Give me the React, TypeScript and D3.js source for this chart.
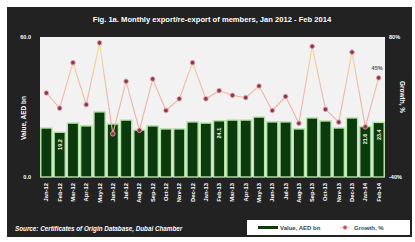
import * as d3 from "d3";

const months = [
  "Jan-12", "Feb-12", "Mar-12", "Apr-12", "May-12", "Jun-12", "Jul-12", "Aug-12",
  "Sep-12", "Oct-12", "Nov-12", "Dec-12", "Jan-13", "Feb-13", "Mar-13", "Apr-13",
  "May-13", "Jun-13", "Jul-13", "Aug-13", "Sep-13", "Oct-13", "Nov-13", "Dec-13",
  "Jan-14", "Feb-14",
];
// value, AED bn
const values = [
  21.0, 19.2, 23.1, 21.9, 27.9, 22.7, 24.4, 20.1, 21.9, 20.6, 20.6, 23.6, 23.1,
  24.1, 24.4, 24.4, 25.7, 23.6, 23.6, 20.6, 25.3, 24.0, 21.0, 25.3, 21.6, 23.4,
];
// growth, %
const growth = [
  32, 19, 58, 22, 75, -3, 42, 0, 44, 17, 27, 58, 27, 34, 30, 28, 38, 17, 29, 6,
  72, 18, 7, 67, 3, 45,
];
const valueLabels = ["Feb-12", "Feb-13", "Jan-14", "Feb-14"];
const growthLabels = ["Feb-14"];

export default function App() {
  const left = 40;
  const right = 385;
  const top = 37;
  const bottom = 177;

  const x = d3.scaleBand().domain(months).range([left, right]).paddingInner(0.16).paddingOuter(0.06);
  const y = d3.scaleLinear().domain([0, 60]).range([bottom, top]);
  const y2 = d3.scaleLinear().domain([-40, 80]).range([bottom, top]);

  const line = d3
    .line<number>()
    .x((_, i) => (x(months[i]) as number) + x.bandwidth() / 2)
    .y((d) => y2(d));

  const white = "#ffffff";
  const font = "Liberation Sans, Arial, sans-serif";

  return (
    <svg
      width={415}
      height={242}
      style={{ position: "absolute", left: 0, top: 0, background: "#fff" }}
      fontFamily={font}
    >
      <defs>
        <linearGradient id="lg" gradientUnits="userSpaceOnUse" x1="0" y1={top} x2="0" y2={bottom}>
          <stop offset="0" stopColor="#f3e48a" />
          <stop offset="0.35" stopColor="#f2b9a0" />
          <stop offset="1" stopColor="#ee9aa6" />
        </linearGradient>
      </defs>
      <rect x={7} y={7} width={405} height={230} fill="#222222" />
      <text x={212} y={22} fill={white} fontSize={7.6} fontWeight="bold" textAnchor="middle">
        Fig. 1a. Monthly export/re-export of members, Jan 2012 - Feb 2014
      </text>

      <rect x={left} y={top} width={right - left} height={bottom - top} fill="#f2f2f2" />

      {/* left axis */}
      {[0, 60].map((t) => (
        <text key={t} x={31} y={y(t) + 2} fill={white} fontSize={5.5} fontWeight="bold" textAnchor="end">
          {t.toFixed(1)}
        </text>
      ))}
      {[-40, 80].map((t) => (
        <text key={t} x={389} y={y2(t) + 2} fill={white} fontSize={5.5} fontWeight="bold">
          {t}%
        </text>
      ))}
      <text
        transform="translate(26,118) rotate(-90)"
        fill={white}
        fontSize={6.5}
        fontWeight="bold"
        textAnchor="middle"
      >
        Value, AED bn
      </text>
      <text
        transform="translate(400,97) rotate(90)"
        fill={white}
        fontSize={6.5}
        fontWeight="bold"
        textAnchor="middle"
      >
        Growth, %
      </text>

      {/* bars */}
      {values.map((v, i) => (
        <rect
          key={i}
          x={x(months[i])}
          y={y(v)}
          width={x.bandwidth()}
          height={bottom - y(v)}
          fill="#0b3a0c"
          stroke="#b4e3a6"
          strokeWidth={1.4}
        />
      ))}
      {values.map((v, i) =>
        valueLabels.includes(months[i]) ? (
          <text
            key={i}
            transform={`translate(${(x(months[i]) as number) + x.bandwidth() / 2 + 2},${y(v) + 7}) rotate(-90)`}
            fill="#f4f4d8"
            fontSize={5.5}
            fontWeight="bold"
            textAnchor="end"
          >
            {v.toFixed(1)}
          </text>
        ) : null
      )}

      {/* growth line */}
      <path d={line(growth) ?? ""} fill="none" stroke="url(#lg)" strokeWidth={1.1} />
      {growth.map((g, i) => (
        <circle
          key={i}
          cx={(x(months[i]) as number) + x.bandwidth() / 2}
          cy={y2(g)}
          r={2.3}
          fill="#8a3a4a"
          stroke="#f0a6ae"
          strokeWidth={0.8}
        />
      ))}
      {growth.map((g, i) =>
        growthLabels.includes(months[i]) ? (
          <text
            key={i}
            x={(x(months[i]) as number) + x.bandwidth() / 2 + 4}
            y={y2(g) - 8}
            fill="#555"
            fontSize={5.5}
            fontWeight="bold"
            textAnchor="end"
          >
            {g}%
          </text>
        ) : null
      )}

      {/* x labels */}
      {months.map((m) => (
        <text
          key={m}
          transform={`translate(${(x(m) as number) + x.bandwidth() / 2 + 2},183) rotate(-90)`}
          fill={white}
          fontSize={5.8}
          fontWeight="bold"
          textAnchor="end"
        >
          {m}
        </text>
      ))}

      <text x={15} y={231} fill={white} fontSize={6.3} fontWeight="bold" fontStyle="italic">
        Source: Certificates of Origin Database, Dubai Chamber
      </text>

      {/* legend */}
      <rect x={247} y={220} width={163} height={15} fill="#ffffff" />
      <line x1={258} x2={278} y1={227.5} y2={227.5} stroke="#0b3a0c" strokeWidth={3} />
      <text x={280} y={229.5} fill="#444" fontSize={6} fontWeight="bold">
        Value, AED bn
      </text>
      <line x1={340} x2={350} y1={227.5} y2={227.5} stroke="#f6c7c7" strokeWidth={1} />
      <circle cx={345} cy={227.5} r={2} fill="#c0505a" stroke="#f0a6ae" strokeWidth={0.6} />
      <text x={354} y={229.5} fill="#444" fontSize={6} fontWeight="bold">
        Growth, %
      </text>
    </svg>
  );
}
